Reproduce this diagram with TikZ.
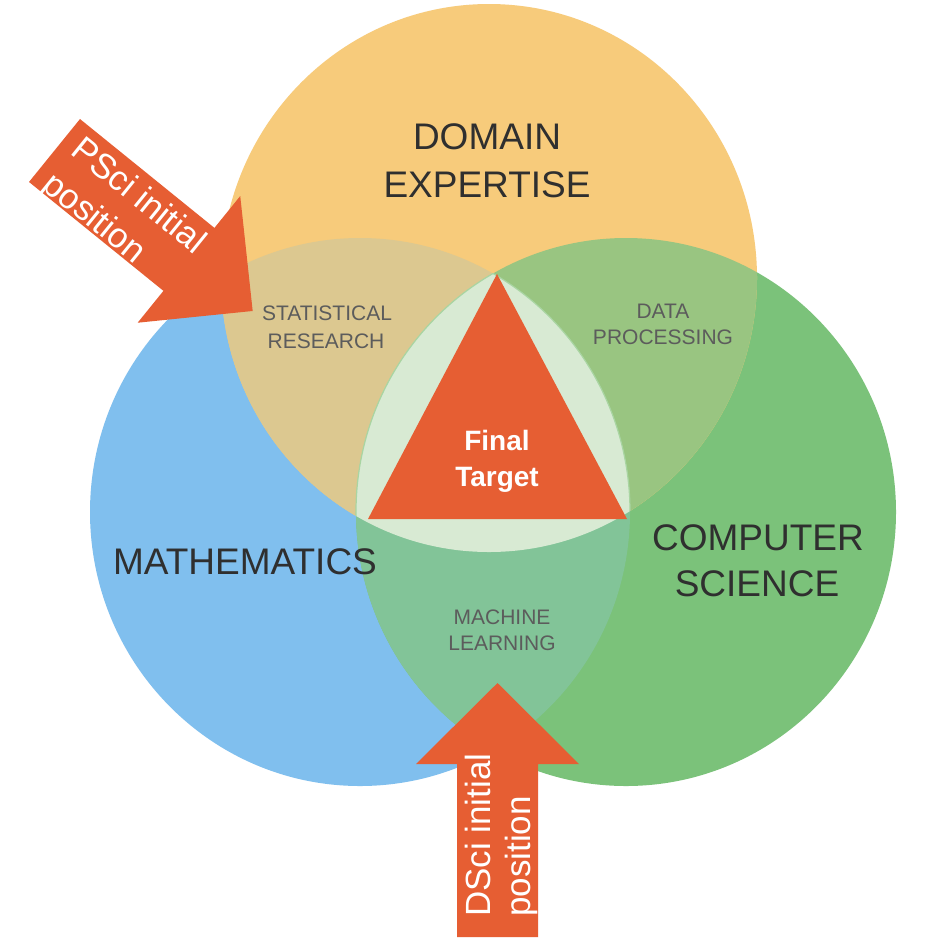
\documentclass[tikz,border=0pt]{standalone}
\usepackage{fontspec}
\setmainfont{Liberation Sans}
\definecolor{cOrange}{HTML}{F7CB7B}
\definecolor{cBlue}{HTML}{80BFEE}
\definecolor{cGreen}{HTML}{7BC27A}
\definecolor{cStat}{HTML}{DCC890}
\definecolor{cData}{HTML}{99C581}
\definecolor{cML}{HTML}{82C498}
\definecolor{cCore}{HTML}{D8EAD3}
\definecolor{cCoreEdge}{HTML}{A9D5A2}
\definecolor{cRed}{HTML}{E65E33}
\definecolor{cDark}{HTML}{2F2F2F}
\definecolor{cGray}{HTML}{5C5C5C}
\begin{document}
\begin{tikzpicture}[x=1pt,y=-1pt,
  bigtext/.style={font=\fontsize{37}{44}\selectfont, text=cDark, inner sep=0pt, anchor=base},
  smalltext/.style={font=\fontsize{21}{26}\selectfont, text=cGray, inner sep=0pt, anchor=base},
  targettext/.style={font=\fontsize{28}{34}\selectfont\bfseries, text=white, inner sep=0pt, anchor=base},
  arrowtext/.style={text=white, inner sep=0pt, anchor=west, align=left},
  redshape/.style={fill=cRed}]
\useasboundingbox (0,0) rectangle (952,946);
\fill[white] (0,0) rectangle (952,946);
\def\Oell{(489,278) ellipse [x radius=268pt, y radius=274pt]}
\def\Bell{(360,512) ellipse [x radius=270pt, y radius=274pt]}
\def\Gell{(626,512) ellipse [x radius=270pt, y radius=274pt]}
% circles
\fill[cBlue] \Bell;
\fill[cGreen] \Gell;
\fill[cOrange] \Oell;
% pairwise overlaps
\begin{scope}\clip \Oell; \fill[cStat] \Bell; \end{scope}
\begin{scope}\clip \Oell; \fill[cData] \Gell; \end{scope}
\begin{scope}\clip \Bell; \fill[cML] \Gell; \end{scope}
% triple overlap
\begin{scope}\clip \Oell; \clip \Bell; \fill[cCore] \Gell; \draw[cCoreEdge, line width=1.2pt] \Gell; \end{scope}
\begin{scope}\clip \Oell; \clip \Gell; \draw[cCoreEdge, line width=1.2pt] \Bell; \end{scope}
% central triangle
\coordinate (apex) at (497,274);
\coordinate (tl) at (368,519);
\coordinate (tr) at (627,519);
\fill[redshape] (apex) -- (tr) -- (tl) -- cycle;
\node[targettext] (final) at (497,450.7) {Final};
\node[targettext] (target) at (497,486) {Target};
% circle labels
\node[bigtext] (dom1) at (487,149) {DOMAIN};
\node[bigtext] (dom2) at (487,197) {EXPERTISE};
\node[bigtext] (math) at (245,574) {MATHEMATICS};
\node[bigtext] (cs1) at (758,550) {COMPUTER};
\node[bigtext] (cs2) at (757,596) {SCIENCE};
% overlap labels
\node[smalltext] (st1) at (327,320.5) {STATISTICAL};
\node[smalltext] (st2) at (326,348.5) {RESEARCH};
\node[smalltext] (dp1) at (663,318.5) {DATA};
\node[smalltext] (dp2) at (663,344.5) {PROCESSING};
\node[smalltext] (ml1) at (502,624.5) {MACHINE};
\node[smalltext] (ml2) at (502,650.5) {LEARNING};
% PSci arrow
\begin{scope}[shift={(54.5,150.5)}, rotate=-39]
  \coordinate (pstail) at (0,0);
  \coordinate (pstip) at (255,0);
  \fill[redshape] (0,-40.5) -- (173,-40.5) -- (173,-81.5) -- (pstip) -- (173,81.5) -- (173,40.5) -- (0,40.5) -- cycle;
  \node[arrowtext, font=\fontsize{35}{45}\selectfont, rotate=-39] (psci) at (13,6.5) {PSci initial\\position};
\end{scope}
% DSci arrow
\coordinate (dstip) at (497.5,683);
\fill[redshape] (457,937) -- (457,764) -- (416,764) -- (dstip) -- (579,764) -- (538,764) -- (538,937) -- cycle;
\node[arrowtext, font=\fontsize{35}{40}\selectfont, rotate=90] (dsci) at (501,917) {DSci initial\\position};
\end{tikzpicture}
\end{document}
